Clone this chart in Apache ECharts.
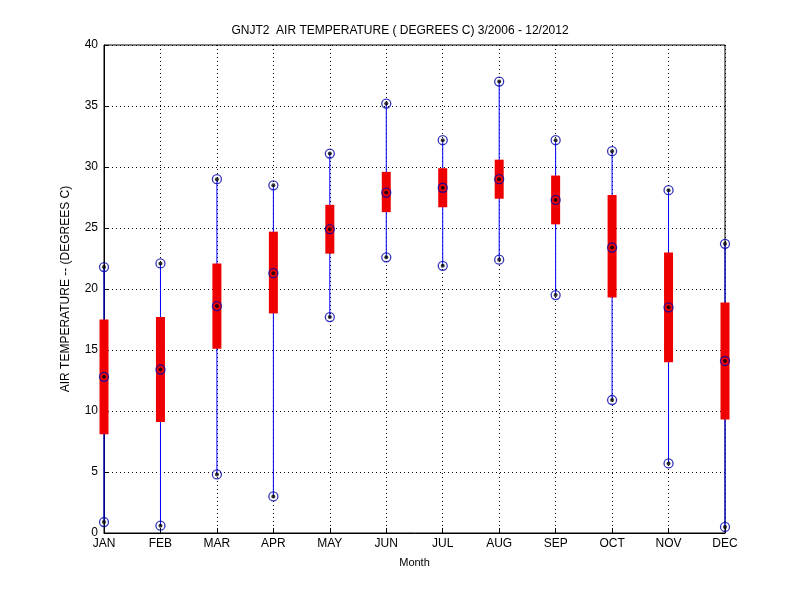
<!DOCTYPE html>
<html><head><meta charset="utf-8">
<script src="https://cdn.jsdelivr.net/npm/echarts@6/dist/echarts.min.js"></script>
<style>body{margin:0;background:#fff}#c{width:800px;height:600px}</style></head>
<body><div id="c"></div>
<script>
const months=['JAN','FEB','MAR','APR','MAY','JUN','JUL','AUG','SEP','OCT','NOV','DEC'];
const minV=[0.9,0.6,4.8,3.0,17.7,22.6,21.9,22.4,19.5,10.9,5.7,0.5];
const q1V=[8.1,9.1,15.1,18.0,22.9,26.3,26.7,27.4,25.3,19.3,14.0,9.3];
const medV=[12.8,13.4,18.6,21.3,24.9,27.9,28.3,29.0,27.3,23.4,18.5,14.1];
const q3V=[17.5,17.7,22.1,24.7,26.9,29.6,29.9,30.6,29.3,27.7,23.0,18.9];
const maxV=[21.8,22.1,29.0,28.5,31.1,35.2,32.2,37.0,32.2,31.3,28.1,23.7];
const yTicks=[0,5,10,15,20,25,30,35,40];

const boxData=months.map((m,i)=>[i+1,minV[i],q1V[i],q3V[i],maxV[i]]);
const pts=[];
months.forEach((m,i)=>{pts.push([i+1,minV[i]],[i+1,medV[i]],[i+1,maxV[i]]);});
const font='Liberation Sans';
const chart=echarts.init(document.getElementById('c'));
chart.setOption({
 animation:false,
 title:{text:'GNJT2  AIR TEMPERATURE ( DEGREES C) 3/2006 - 12/2012',left:'center',top:20,textStyle:{fontFamily:font,fontSize:12,fontWeight:'normal',color:'#000'}},
 grid:{left:104,right:75,top:45,bottom:67,show:true,borderColor:'#000',borderWidth:1},
 xAxis:{type:'value',min:1,max:12,interval:1,
  name:'Month',nameLocation:'middle',nameGap:24,nameTextStyle:{fontFamily:font,fontSize:11,color:'#000'},
  axisLine:{lineStyle:{color:'#000'}},axisTick:{inside:true,length:5,lineStyle:{color:'#000'}},
  axisLabel:{formatter:v=>months[v-1]||'',fontFamily:font,fontSize:12,color:'#000',margin:5},
  splitLine:{show:true,lineStyle:{type:[1,3],color:'#000'}}},
 yAxis:{type:'value',min:0,max:40,interval:5,
  name:'AIR TEMPERATURE -- (DEGREES C)',nameLocation:'middle',nameGap:32,nameTextStyle:{fontFamily:font,fontSize:12,color:'#000'},
  axisLine:{show:true,lineStyle:{color:'#000'}},axisTick:{inside:true,length:5,lineStyle:{color:'#000'}},
  axisLabel:{fontFamily:font,fontSize:12,color:'#000',margin:6,formatter:v=>yTicks.includes(v)?String(v):''},
  splitLine:{show:true,lineStyle:{type:[1,3],color:'#000'}}},
 series:[
  {type:'custom',data:boxData,z:2,renderItem:(p,api)=>{
    const x=api.value(0);
    const a=api.coord([x,api.value(1)]),b=api.coord([x,api.value(2)]),c=api.coord([x,api.value(3)]),d=api.coord([x,api.value(4)]);
    return {type:'group',children:[
     {type:'line',shape:{x1:a[0],y1:a[1],x2:d[0],y2:d[1]},style:{stroke:'#0000ff',lineWidth:1}},
     {type:'rect',shape:{x:b[0]-4.5,y:c[1],width:9,height:b[1]-c[1]},style:{fill:'#ee0000'}}
    ]};}},
  {type:'scatter',data:pts,z:3,symbol:'circle',symbolSize:9,itemStyle:{color:'none',borderColor:'#0000aa',borderWidth:1.3}},
  {type:'scatter',data:pts,z:4,symbol:'circle',symbolSize:4,itemStyle:{color:'#000'}}
 ]
});
</script></body></html>
